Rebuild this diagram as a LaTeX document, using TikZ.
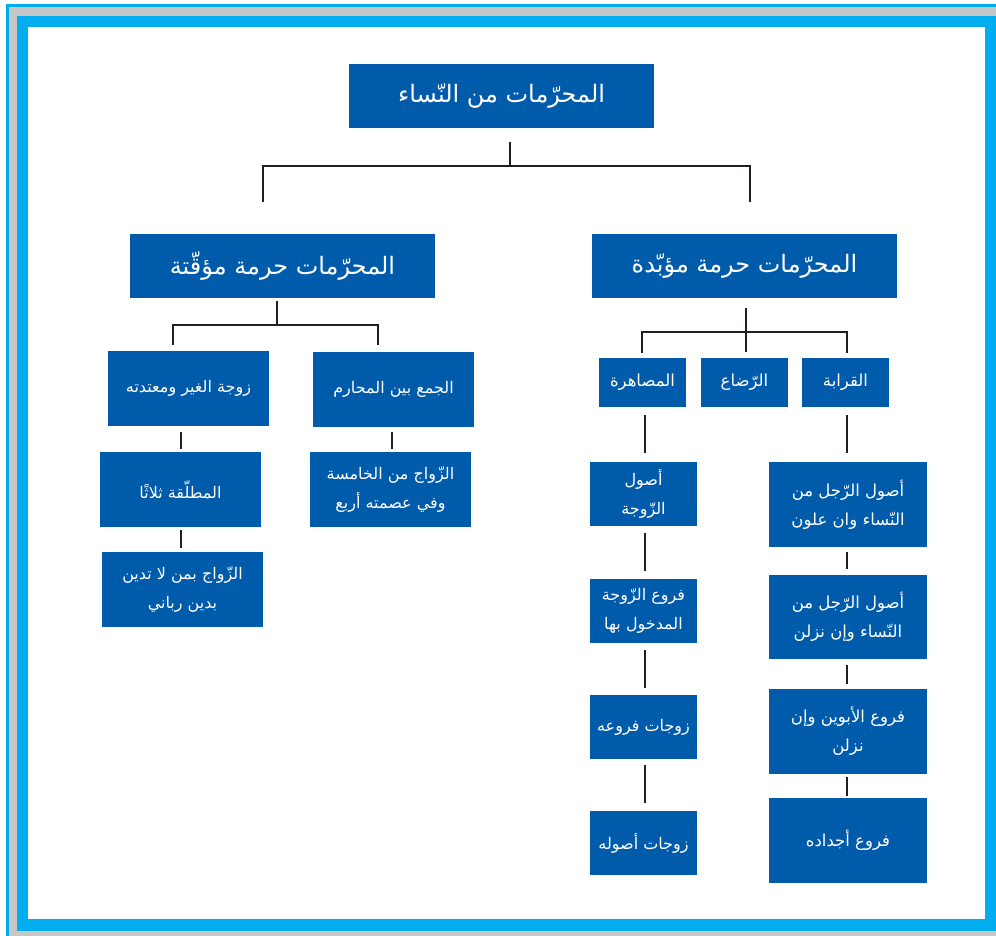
\documentclass[tikz,border=0pt]{standalone}
\usepackage{fontspec}
\TeXXeTstate=1
\newfontfamily\arabicfont[Script=Arabic]{DejaVu Sans}
\definecolor{boxblue}{RGB}{0,91,170}
\definecolor{frcyan}{RGB}{0,174,239}
\definecolor{lnk}{RGB}{35,31,32}
\newcommand\AR[1]{\beginR #1\endR}
\tikzset{
  bbox/.style={fill=boxblue, text=white, inner sep=0pt, align=center},
  bigbox/.style={bbox, minimum width=305pt, minimum height=64pt, font=\arabicfont\fontsize{24}{28}\selectfont},
  midbox/.style={bbox, minimum width=87pt, minimum height=49pt, font=\arabicfont\fontsize{16.5}{22}\selectfont},
  leftbox/.style={bbox, minimum width=161pt, minimum height=75pt, font=\arabicfont\fontsize{16}{29}\selectfont},
  mbox/.style={bbox, minimum width=107pt, minimum height=64pt, font=\arabicfont\fontsize{16}{29}\selectfont},
  qbox/.style={bbox, minimum width=158pt, minimum height=85pt, font=\arabicfont\fontsize{16.5}{29}\selectfont},
  conn/.style={draw=lnk, line width=2.6pt}
}
\begin{document}
\begin{tikzpicture}[x=1pt,y=-1pt]
\useasboundingbox (0,0) rectangle (996,936);
% frame
\fill[white] (0,0) rectangle (996,936);
\fill[black!22] (9,7) rectangle (996,936);
\fill[frcyan] (6,4) rectangle (996,7);
\fill[frcyan] (6,4) rectangle (9,936);
\fill[frcyan] (17,16) rectangle (996,931);
\fill[white] (28,27) rectangle (985,919);

% nodes
\node[bigbox] (root) at (501.5,96) {\AR{المحرّمات من النّساء}};
\node[bigbox] (temp) at (282.5,266) {\AR{المحرّمات حرمة مؤقّتة}};
\node[bigbox] (perm) at (744.5,266) {\AR{المحرّمات حرمة مؤبّدة}};

\node[leftbox] (la) at (188.5,388.5) {\AR{زوجة الغير ومعتدته}};
\node[leftbox] (lb) at (393.5,389.5) {\AR{الجمع بين المحارم}};
\node[leftbox] (la1) at (180.5,489.5) {\AR{المطلّقة ثلاثًا}};
\node[leftbox] (la2) at (182.5,589.5) {\AR{الزّواج بمن لا تدين}\\\AR{بدين رباني}};
\node[leftbox] (lb1) at (390.5,489.5) {\AR{الزّواج من الخامسة}\\\AR{وفي عصمته أربع}};

\node[midbox] (musa) at (642.5,382.5) {\AR{المصاهرة}};
\node[midbox] (rida) at (744.5,382.5) {\AR{الرّضاع}};
\node[midbox] (qara) at (845.5,382.5) {\AR{القرابة}};

\node[mbox] (m1) at (643.5,494) {\AR{أصول}\\\AR{الزّوجة}};
\node[mbox] (m2) at (643.5,611) {\AR{فروع الزّوجة}\\\AR{المدخول بها}};
\node[mbox] (m3) at (643.5,727) {\AR{زوجات فروعه}};
\node[mbox] (m4) at (643.5,843) {\AR{زوجات أصوله}};

\node[qbox] (q1) at (848,504.5) {\AR{أصول الرّجل من}\\\AR{النّساء وان علون}};
\node[qbox, minimum height=84pt] (q2) at (848,617) {\AR{أصول الرّجل من}\\\AR{النّساء وإن نزلن}};
\node[qbox] (q3) at (848,731.5) {\AR{فروع الأبوين وإن}\\\AR{نزلن}};
\node[qbox] (q4) at (848,840.5) {\AR{فروع أجداده}};

% connector coordinates
\coordinate (rootS) at (510,142);
\coordinate (rootJ) at (510,166);
\coordinate (rootL) at (263,166);
\coordinate (rootR) at (750,166);
\coordinate (tempN) at (263,202);
\coordinate (permN) at (750,202);

\coordinate (tempS) at (277,301);
\coordinate (tempJ) at (277,325);
\coordinate (tempL) at (173,325);
\coordinate (tempR) at (378,325);
\coordinate (laN) at (173,345);
\coordinate (lbN) at (378,345);

\coordinate (laS) at (181,432);
\coordinate (la1N) at (181,449);
\coordinate (la1S) at (181,530);
\coordinate (la2N) at (181,548);
\coordinate (lbS) at (392,432);
\coordinate (lb1N) at (392,449);

\coordinate (permS) at (746,308);
\coordinate (ridaN) at (746,352);
\coordinate (permL) at (642,332);
\coordinate (permR) at (847,332);
\coordinate (musaN) at (642,353);
\coordinate (qaraN) at (847,353);

\coordinate (musaS) at (645,415);
\coordinate (m1N) at (645,453);
\coordinate (m1S) at (645,533);
\coordinate (m2N) at (645,571);
\coordinate (m2S) at (645,650);
\coordinate (m3N) at (645,688);
\coordinate (m3S) at (645,765);
\coordinate (m4N) at (645,803);

\coordinate (qaraS) at (847,415);
\coordinate (q1N) at (847,453);
\coordinate (q1S) at (847,552);
\coordinate (q2N) at (847,569);
\coordinate (q2S) at (847,665);
\coordinate (q3N) at (847,684);
\coordinate (q3S) at (847,777);
\coordinate (q4N) at (847,796);

% connectors
\draw[conn] (rootS) -- (rootJ);
\draw[conn] (tempN) -- (rootL) -- (rootR) -- (permN);
\draw[conn] (tempS) -- (tempJ);
\draw[conn] (laN) -- (tempL) -- (tempR) -- (lbN);
\draw[conn] (laS) -- (la1N);
\draw[conn] (la1S) -- (la2N);
\draw[conn] (lbS) -- (lb1N);
\draw[conn] (permS) -- (ridaN);
\draw[conn] (musaN) -- (permL) -- (permR) -- (qaraN);
\draw[conn] (musaS) -- (m1N);
\draw[conn] (m1S) -- (m2N);
\draw[conn] (m2S) -- (m3N);
\draw[conn] (m3S) -- (m4N);
\draw[conn] (qaraS) -- (q1N);
\draw[conn] (q1S) -- (q2N);
\draw[conn] (q2S) -- (q3N);
\draw[conn] (q3S) -- (q4N);
\end{tikzpicture}
\end{document}
